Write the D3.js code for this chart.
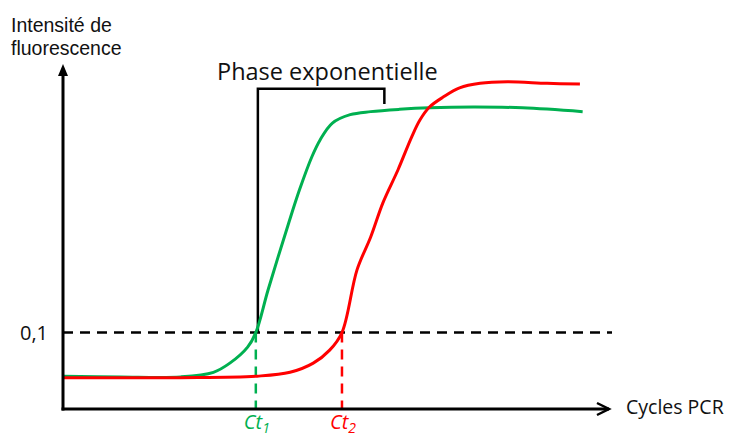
<!DOCTYPE html>
<html>
<head>
<meta charset="utf-8">
<script src="https://cdn.jsdelivr.net/npm/d3@7"></script>
<style>
body { margin: 0; background: #fff; }
text { font-family: "Open Sans", sans-serif; fill: #111; }
</style>
</head>
<body>
<div id="root"></div>
<script>
// cycles (x) and fluorescence (y)
var greenCycles = [0, 4.2, 8.6, 11.0, 12.2, 13.5, 14.1, 15.0, 16.5, 17.3, 18.2, 18.8, 19.7, 21.0, 22.5, 24.6, 26.8, 30.0, 33.6, 38.0];
var greenValues = [0.043, 0.042, 0.042, 0.048, 0.060, 0.081, 0.100, 0.156, 0.243, 0.287, 0.330, 0.352, 0.374, 0.385, 0.389, 0.392, 0.394, 0.395, 0.394, 0.389];

var redCycles = [0, 8.6, 14.2, 16.6, 18.3, 19.5, 20.4, 21.5, 22.5, 23.4, 24.5, 25.5, 26.1, 26.8, 27.8, 29.0, 30.5, 32.5, 35.4, 37.8];
var redValues = [0.041, 0.041, 0.043, 0.048, 0.060, 0.077, 0.100, 0.182, 0.225, 0.270, 0.313, 0.356, 0.378, 0.395, 0.408, 0.420, 0.426, 0.428, 0.426, 0.425];

var threshold = 0.1;
var thresholdLabel = "0,1";
var ct1 = 14.1, ct2 = 20.4;
var bracketLeft = 14.25, bracketRight = 23.5, bracketTop = 0.419, bracketEnd = 0.399;

var width = 731, height = 437;

var x = d3.scaleLinear().domain([0, 40]).range([63, 610]);
var y = d3.scaleLinear().domain([0, 0.45]).range([409, 65]);

var svg = d3.select("#root").append("svg")
    .attr("width", width)
    .attr("height", height);

// threshold
svg.append("line")
    .attr("x1", x(0)).attr("x2", 612)
    .attr("y1", y(threshold)).attr("y2", y(threshold))
    .attr("stroke", "#000").attr("stroke-width", 2.5)
    .attr("stroke-dasharray", "10,7");

svg.append("text")
    .attr("x", 48).attr("y", y(threshold) + 7)
    .attr("text-anchor", "end")
    .style("font-size", "20px")
    .text(thresholdLabel);

// Ct drop lines
svg.append("line")
    .attr("x1", x(ct1)).attr("x2", x(ct1))
    .attr("y1", y(threshold)).attr("y2", y(0))
    .attr("stroke", "#00B050").attr("stroke-width", 2.5)
    .attr("stroke-dasharray", "10,7");
svg.append("line")
    .attr("x1", x(ct2)).attr("x2", x(ct2))
    .attr("y1", y(threshold)).attr("y2", y(0))
    .attr("stroke", "#FF0000").attr("stroke-width", 2.5)
    .attr("stroke-dasharray", "10,7");

// bracket for exponential phase
svg.append("path")
    .attr("d", "M" + x(bracketLeft) + "," + y(threshold) +
               "V" + y(bracketTop) +
               "H" + x(bracketRight) +
               "V" + y(bracketEnd))
    .attr("fill", "none")
    .attr("stroke", "#000").attr("stroke-width", 2.5);

svg.append("text")
    .attr("x", 217).attr("y", 80)
    .style("font-size", "23.5px")
    .text("Phase exponentielle");

// curves
var line = d3.line()
    .x(function(d) { return x(d[0]); })
    .y(function(d) { return y(d[1]); })
    .curve(d3.curveCatmullRom.alpha(0.5));

svg.append("path")
    .datum(d3.zip(greenCycles, greenValues))
    .attr("d", line)
    .attr("fill", "none")
    .attr("stroke", "#00B050").attr("stroke-width", 3);

svg.append("path")
    .datum(d3.zip(redCycles, redValues))
    .attr("d", line)
    .attr("fill", "none")
    .attr("stroke", "#FF0000").attr("stroke-width", 3);

// axes
svg.append("line")
    .attr("x1", x(0)).attr("x2", x(0))
    .attr("y1", y(0) + 1.5).attr("y2", 72)
    .attr("stroke", "#000").attr("stroke-width", 3);
svg.append("path")
    .attr("d", "M" + (x(0) - 5) + ",76L" + x(0) + ",64L" + (x(0) + 5) + ",76Z")
    .attr("fill", "#000");

svg.append("line")
    .attr("x1", x(0) - 1.5).attr("x2", 609)
    .attr("y1", y(0)).attr("y2", y(0))
    .attr("stroke", "#000").attr("stroke-width", 3);
svg.append("path")
    .attr("d", "M597,403L609,409L597,415")
    .attr("fill", "none")
    .attr("stroke", "#000").attr("stroke-width", 2.5);

// y title, two lines
svg.append("text")
    .attr("x", 11).attr("y", 32)
    .style("font-family", "'Liberation Sans', sans-serif")
    .style("font-size", "19.5px")
    .text("Intensité de");
svg.append("text")
    .attr("x", 11).attr("y", 55)
    .style("font-family", "'Liberation Sans', sans-serif")
    .style("font-size", "19.5px")
    .text("fluorescence");

svg.append("text")
    .attr("x", 626).attr("y", 414)
    .style("font-size", "19.5px")
    .text("Cycles PCR");

// Ct labels
function ctLabel(cx, color, sub) {
  var t = svg.append("text")
      .attr("x", cx - 12).attr("y", 429)
      .style("font-size", "20px")
      .style("font-style", "italic")
      .style("fill", color);
  t.append("tspan").text("Ct");
  t.append("tspan").attr("dy", 4).style("font-size", "14px").text(sub);
}
ctLabel(x(ct1), "#00B050", "1");
ctLabel(x(ct2), "#FF0000", "2");
</script>
</body>
</html>
